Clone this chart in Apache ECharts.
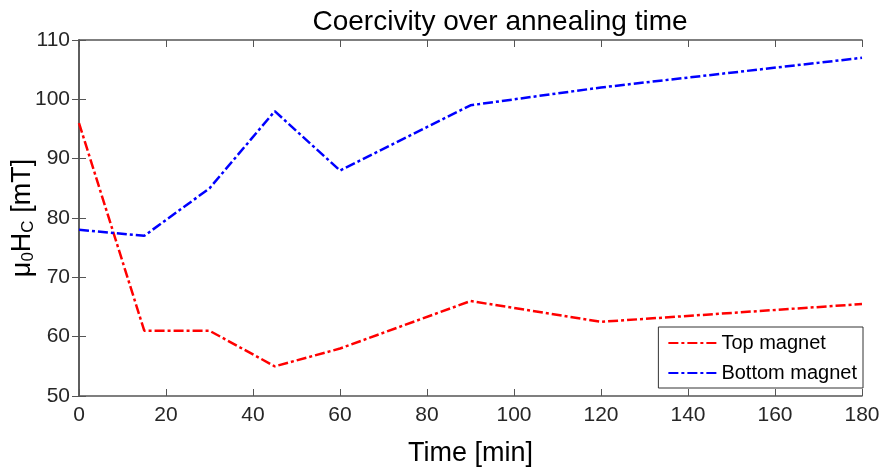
<!DOCTYPE html>
<html><head><meta charset="utf-8">
<script src="https://cdn.jsdelivr.net/npm/echarts@6/dist/echarts.min.js"></script>
<style>html,body{margin:0;padding:0;background:#fff}#c{width:885px;height:468px}</style>
</head><body><div id="c"></div>
<script>
const times = [0, 15, 30, 45, 60, 90, 120, 180];
const topMagnet = [96, 61, 61, 55, 58, 66, 62.5, 65.5];
const bottomMagnet = [78, 77, 85, 98, 88, 99, 102, 107];
const seriesNames = ['Top magnet', 'Bottom magnet'];

const F = 'Liberation Sans, Arial, sans-serif';
const axisLine = {show: true, lineStyle: {color: '#555', width: 1.5}};
const tick = {show: true, inside: true, length: 7, lineStyle: {color: '#555', width: 1}};
const dash = [10, 3, 3, 3];

const chart = echarts.init(document.getElementById('c'));
chart.setOption({
  animation: false,
  title: {text: 'Coercivity over annealing time', left: 495, textAlign: 'center', top: 3,
    textStyle: {fontFamily: F, fontSize: 28, fontWeight: 'normal', color: '#000'}},
  grid: {left: 79, top: 40, right: 23, bottom: 72, containLabel: false, outerBoundsMode: 'none'},
  legend: {
    right: 22, top: 327, orient: 'vertical', itemWidth: 48, itemHeight: 14, itemGap: 10,
    padding: [6, 6, 5, 9], borderColor: '#333', borderWidth: 1, backgroundColor: '#fff',
    textStyle: {fontFamily: F, fontSize: 20, color: '#000'},
    itemStyle: {opacity: 0},
    data: seriesNames,
  },
  xAxis: [{
    type: 'value', min: 0, max: 180, interval: 20,
    name: 'Time [min]', nameLocation: 'middle', nameGap: 44, nameMoveOverlap: false,
    nameTextStyle: {fontFamily: F, fontSize: 27, color: '#000'},
    axisLine, axisTick: tick, splitLine: {show: false},
    axisLabel: {fontFamily: F, fontSize: 21, color: '#262626', margin: 9}
  }, {
    type: 'value', min: 0, max: 180, interval: 20, position: 'top',
    axisLine, axisTick: tick, splitLine: {show: false}, axisLabel: {show: false}
  }],
  yAxis: [{
    type: 'value', min: 50, max: 110, interval: 10,
    name: '{a|μ}{s|0}{a|H}{s|C}{a| [mT]}', nameLocation: 'middle', nameGap: 42, nameRotate: 90,
    nameMoveOverlap: false,
    nameTextStyle: {rich: {
      a: {fontFamily: F, fontSize: 27, color: '#000'},
      s: {fontFamily: F, fontSize: 17, color: '#000', verticalAlign: 'bottom', padding: [12, 0, 0, 0]}
    }},
    axisLine, axisTick: tick, splitLine: {show: false},
    axisLabel: {fontFamily: F, fontSize: 21, color: '#262626', margin: 9}
  }, {
    type: 'value', min: 50, max: 110, interval: 10, position: 'right',
    axisLine, axisTick: tick, splitLine: {show: false}, axisLabel: {show: false}
  }],
  series: [{
    name: seriesNames[0], type: 'line', symbol: 'none',
    data: times.map((t, i) => [t, topMagnet[i]]),
    lineStyle: {color: '#ff0000', width: 2.5, type: dash}, itemStyle: {color: '#ff0000'}
  }, {
    name: seriesNames[1], type: 'line', symbol: 'none',
    data: times.map((t, i) => [t, bottomMagnet[i]]),
    lineStyle: {color: '#0000ff', width: 2.5, type: dash}, itemStyle: {color: '#0000ff'}
  }]
});
</script></body></html>
